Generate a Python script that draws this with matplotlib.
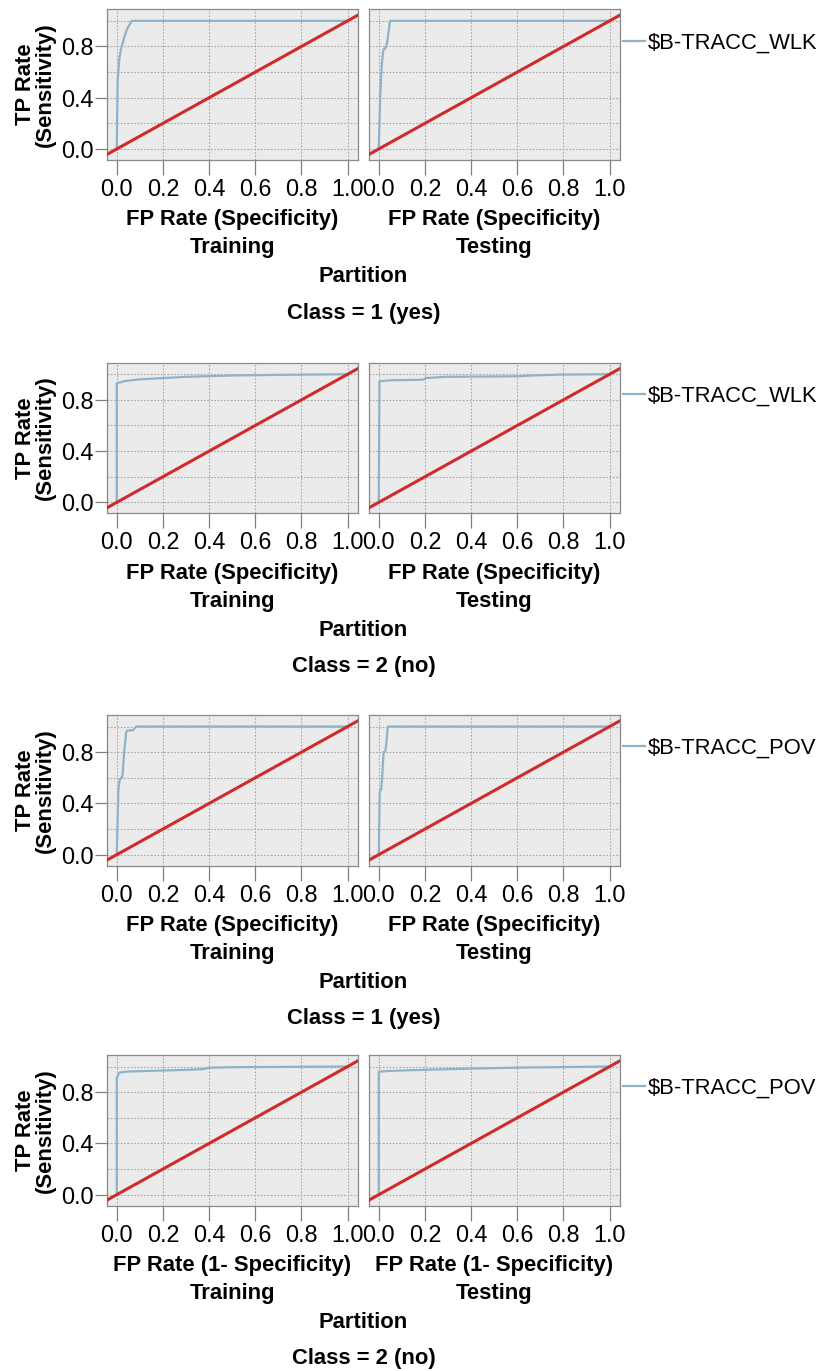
import numpy as np
import matplotlib
matplotlib.use('Agg')
import matplotlib.pyplot as plt
from matplotlib.ticker import MultipleLocator, FixedLocator

plt.rcParams['font.family'] = ['Liberation Sans', 'DejaVu Sans']

# ROC curves (FP rate, TP rate)
fpr_wlk1_train = [0, 0.002, 0.004, 0.011, 0.017, 0.029, 0.043, 0.055, 0.065, 1.0]
tpr_wlk1_train = [0, 0.30, 0.54, 0.70, 0.77, 0.85, 0.93, 0.97, 1.0, 1.0]
fpr_wlk1_test = [0, 0.003, 0.006, 0.010, 0.014, 0.018, 0.022, 0.030, 0.035, 0.040, 0.049, 1.0]
tpr_wlk1_test = [0, 0.20, 0.40, 0.55, 0.68, 0.75, 0.78, 0.79, 0.82, 0.88, 1.0, 1.0]

fpr_wlk2_train = [0, 0.0, 0.012, 0.04, 0.10, 0.20, 0.30, 0.50, 0.70, 1.0]
tpr_wlk2_train = [0, 0.93, 0.935, 0.948, 0.96, 0.97, 0.98, 0.99, 0.995, 1.0]
fpr_wlk2_test = [0, 0.003, 0.015, 0.06, 0.19, 0.205, 0.29, 0.61, 0.66, 0.785, 1.0]
tpr_wlk2_test = [0, 0.943, 0.948, 0.953, 0.957, 0.97, 0.98, 0.984, 0.99, 0.997, 1.0]

fpr_pov1_train = [0, 0.004, 0.007, 0.012, 0.019, 0.023, 0.026, 0.029, 0.033, 0.038, 0.041, 0.048, 0.07, 0.084, 1.0]
tpr_pov1_train = [0, 0.29, 0.50, 0.58, 0.60, 0.60, 0.64, 0.73, 0.82, 0.90, 0.96, 0.97, 0.97, 1.0, 1.0]
fpr_pov1_test = [0, 0.002, 0.004, 0.007, 0.011, 0.014, 0.019, 0.021, 0.029, 0.033, 0.039, 1.0]
tpr_pov1_test = [0, 0.24, 0.48, 0.50, 0.51, 0.59, 0.74, 0.80, 0.81, 0.87, 1.0, 1.0]

fpr_pov2_train = [0, 0.0, 0.012, 0.04, 0.14, 0.30, 0.37, 0.40, 0.50, 1.0]
tpr_pov2_train = [0, 0.913, 0.953, 0.96, 0.966, 0.974, 0.979, 0.99, 0.995, 1.0]
fpr_pov2_test = [0, 0.0, 0.05, 0.19, 0.41, 0.62, 1.0]
tpr_pov2_test = [0, 0.96, 0.966, 0.974, 0.984, 0.992, 1.0]

groups = [
    ('$B-TRACC_WLK', 'Class = 1 (yes)', 'FP Rate (Specificity)',
     (fpr_wlk1_train, tpr_wlk1_train), (fpr_wlk1_test, tpr_wlk1_test)),
    ('$B-TRACC_WLK', 'Class = 2 (no)', 'FP Rate (Specificity)',
     (fpr_wlk2_train, tpr_wlk2_train), (fpr_wlk2_test, tpr_wlk2_test)),
    ('$B-TRACC_POV', 'Class = 1 (yes)', 'FP Rate (Specificity)',
     (fpr_pov1_train, tpr_pov1_train), (fpr_pov1_test, tpr_pov1_test)),
    ('$B-TRACC_POV', 'Class = 2 (no)', 'FP Rate (1- Specificity)',
     (fpr_pov2_train, tpr_pov2_train), (fpr_pov2_test, tpr_pov2_test)),
]
partitions = ['Training', 'Testing']

W, H = 824, 1371
fig = plt.figure(figsize=(W / 100, H / 100), dpi=100)

blue = '#8db3cb'
red = '#d02a2a'
fs = 15.8
tfs = 16.8

# pixel layout
tops = [9.3, 362.7, 715, 1055]
ax_h = 150.7
lefts = [107.3, 369.3]
ax_w = 250.5


def fx(px):
    return px / W


def fy(py):
    return 1 - py / H


for gi, (series, cls, xlab, train, test) in enumerate(groups):
    top = tops[gi]
    bot = top + ax_h
    for pi_, (left, (fpr, tpr)) in enumerate(zip(lefts, [train, test])):
        ax = fig.add_axes([fx(left), fy(bot), ax_w / W, ax_h / H])
        ax.set_facecolor('#ebebeb')
        ax.plot(fpr, tpr, color=blue, lw=1.6, label=series, zorder=3)
        ax.plot([-0.1, 1.1], [-0.1, 1.1], color=red, lw=2.2, zorder=4)
        ax.set_xlim(-0.041, 1.044)
        ax.set_ylim(-0.086, 1.09)
        ax.xaxis.set_major_locator(MultipleLocator(0.2))
        ax.yaxis.set_major_locator(FixedLocator([0.0, 0.4, 0.8]))
        ax.yaxis.set_minor_locator(FixedLocator([0.2, 0.6, 1.0]))
        ax.xaxis.set_major_formatter(matplotlib.ticker.FormatStrFormatter('%.1f'))
        ax.yaxis.set_major_formatter(matplotlib.ticker.FormatStrFormatter('%.1f'))
        ax.grid(True, which='both', linestyle=(0, (1.5, 1.5)), color='#a8a8a8', lw=0.8)
        ax.set_axisbelow(True)
        ax.tick_params(axis='x', length=11, width=0.9, color='#808080',
                       labelsize=tfs, pad=2)
        ax.tick_params(axis='y', which='major', length=9, width=0.9,
                       color='#808080', labelsize=tfs, pad=1)
        ax.tick_params(axis='y', which='minor', length=0)
        if pi_ == 1:
            ax.tick_params(axis='y', which='major', labelleft=False, length=0)
            ax.legend(loc='center left', bbox_to_anchor=(1.012, 0.778),
                      frameon=False, fontsize=fs, handlelength=1.0,
                      handletextpad=0.15, borderpad=0, borderaxespad=0)
        for s in ax.spines.values():
            s.set_color('#8a8a8a')
            s.set_linewidth(0.9)
        cx = left + ax_w / 2
        fig.text(fx(cx), fy(bot + 60), xlab, ha='center', va='center',
                 fontsize=fs, fontweight='bold')
        fig.text(fx(cx), fy(bot + 88), partitions[pi_], ha='center',
                 va='center', fontsize=fs, fontweight='bold')
    fig.text(fx(25.5), fy(top + ax_h / 2), 'TP Rate', rotation=90,
             ha='center', va='center', fontsize=fs, fontweight='bold')
    fig.text(fx(45.5), fy(top + ax_h / 2), '(Sensitivity)', rotation=90,
             ha='center', va='center', fontsize=fs, fontweight='bold')
    mid = (lefts[0] + lefts[1] + ax_w) / 2
    fig.text(fx(mid), fy(bot + 117), 'Partition', ha='center', va='center',
             fontsize=fs, fontweight='bold')
    fig.text(fx(mid), fy(bot + 153), cls, ha='center', va='center',
             fontsize=fs, fontweight='bold')

fig.savefig('out.png', dpi=100, facecolor='white')
